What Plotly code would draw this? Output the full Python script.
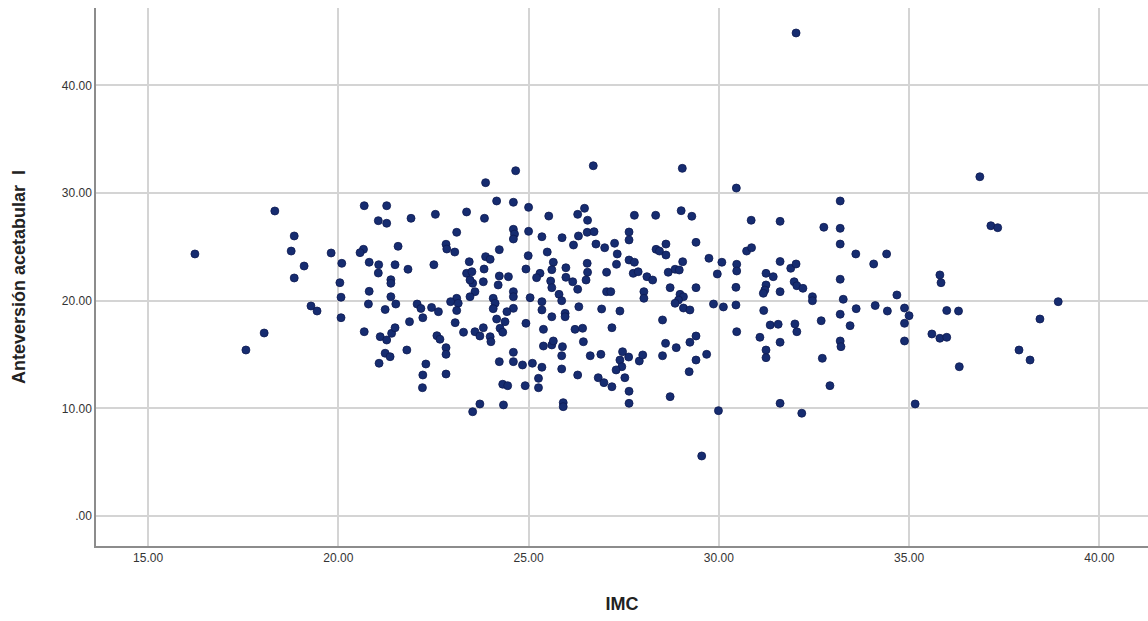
import plotly.graph_objects as go

# IMC (x) and Anteversión acetabular I (y)
imc = [
    16.23, 18.33, 18.84, 18.76, 19.10, 18.84, 19.81, 19.28, 19.44, 17.57, 18.05,
    20.68, 21.27, 21.05, 21.27, 21.91, 22.55, 23.37, 23.11, 22.83, 22.85, 23.06, 21.57, 20.66, 20.57,
    20.09, 20.81, 21.06, 21.05, 21.49, 21.83, 22.51, 23.44, 21.38, 21.38, 20.04, 20.07, 20.81, 20.79,
    21.38, 21.51, 21.23, 22.07, 22.17, 22.45, 23.37, 23.51, 23.53, 23.46, 23.59, 23.46, 23.11, 22.95,
    23.15, 23.11,
    20.07, 22.22, 22.63, 21.87, 20.68, 21.10, 21.27, 21.40, 21.49, 21.80, 21.23, 21.36, 21.07, 22.30,
    22.22, 22.21, 22.59, 22.67, 22.83, 22.83, 22.83, 23.07, 23.29, 23.59, 23.72, 23.72, 23.53,
    24.66, 23.87, 26.70, 24.16, 24.60, 25.00, 23.84, 25.53, 26.47, 26.29, 26.55, 24.60, 24.63, 24.60,
    25.00, 25.35, 25.88, 26.31, 26.54, 26.72, 26.18, 26.77, 27.00, 27.26, 27.64, 27.64, 27.33, 24.23,
    25.49, 24.99, 23.87, 23.99, 25.65, 25.98, 26.54, 27.31, 27.64, 23.83, 24.93, 25.61, 25.30, 25.21,
    26.55, 27.05, 23.81, 24.23, 24.47, 24.20, 25.98, 26.16, 25.58, 25.61, 26.51, 26.29, 24.60, 24.60,
    24.07, 24.12, 25.04, 25.80, 25.87, 25.35, 27.05, 27.16, 26.32, 26.92, 27.40, 24.07, 24.60,
    24.43, 24.16, 24.38, 23.81, 24.25, 24.32, 23.99, 24.01, 24.93, 25.35, 25.61, 25.96, 25.96, 25.39,
    26.22, 26.42, 27.19, 26.44, 25.39, 25.61, 25.65, 25.89, 25.87, 26.62, 26.90, 24.60, 24.23, 24.60,
    24.84, 25.10, 25.35, 25.87, 27.47, 27.63, 27.40, 27.45, 27.30, 27.53, 26.29, 25.26, 25.26, 24.91,
    24.32, 24.45, 26.83, 26.98, 27.19, 27.64, 24.34, 25.91, 25.91, 27.64,
    29.04, 30.46, 27.78, 28.34, 29.01, 29.29, 30.85, 31.61, 28.61, 29.40, 28.35, 28.44, 28.61, 30.73,
    30.86, 27.78, 29.05, 29.74, 30.08, 30.47, 30.47, 31.61, 27.75, 27.88, 28.67, 28.85, 28.96, 28.11,
    28.26, 29.96, 31.24, 31.43, 28.72, 29.40, 30.45, 31.24, 31.21, 31.17, 31.61, 28.03, 28.03, 28.98,
    29.07, 28.94, 28.85, 29.07, 29.86, 30.12, 30.45, 29.24, 31.18,
    28.52, 31.35, 31.56, 30.47, 29.40, 31.08, 28.60, 28.88, 29.24, 31.61, 31.24, 31.24, 27.91, 28.00,
    28.52, 29.40, 29.68, 29.22, 28.72, 29.99, 29.55, 31.61,
    33.19, 32.76, 33.19, 33.19, 33.60, 34.41, 34.07, 31.89, 32.03, 31.98, 32.05, 32.21, 33.19, 32.46,
    32.46, 33.27, 34.68, 33.61, 34.11, 34.43, 34.88,
    32.00, 32.05, 32.69, 33.19, 33.45, 35.00, 34.88, 33.19, 33.21, 34.88, 32.72, 32.92, 32.18, 35.16,
    36.86, 37.15, 37.33, 35.81, 35.84, 38.92, 35.99, 36.30, 35.60, 35.81, 35.99, 36.32, 37.89, 38.18,
    38.44, 32.03,
]

anteversion = [
    24.34, 28.33, 26.01, 24.61, 23.22, 22.11, 24.43, 19.51, 19.04, 15.42, 17.00,
    28.82, 28.82, 27.43, 27.19, 27.65, 28.02, 28.24, 26.35, 25.24, 24.80, 24.52, 25.05, 24.77, 24.46,
    23.47, 23.57, 23.34, 22.57, 23.34, 22.92, 23.34, 23.62, 21.95, 21.62, 21.67, 20.32, 20.87, 19.69,
    20.37, 19.69, 19.18, 19.69, 19.28, 19.37, 22.54, 22.69, 21.62, 21.92, 20.84, 20.37, 20.22, 19.91,
    19.76, 19.09,
    18.42, 18.42, 18.98, 18.05, 17.12, 16.66, 16.35, 16.97, 17.49, 15.42, 15.12, 14.80, 14.19, 14.12,
    13.10, 11.92, 16.75, 16.42, 15.64, 15.02, 13.19, 17.96, 17.07, 17.12, 16.72, 10.41, 9.69,
    32.07, 30.96, 32.53, 29.26, 29.14, 28.67, 27.65, 27.86, 28.58, 28.02, 27.47, 26.63, 26.19, 25.73,
    26.44, 25.94, 25.85, 26.01, 26.35, 26.41, 25.17, 25.26, 24.92, 25.33, 26.38, 25.64, 24.34, 24.74,
    24.52, 24.18, 24.09, 23.84, 23.57, 23.06, 23.47, 23.38, 23.78, 22.94, 22.94, 22.88, 22.54, 22.14,
    22.64, 22.64, 21.76, 22.29, 22.23, 21.46, 22.17, 21.76, 21.83, 21.21, 21.92, 21.06, 20.84, 20.37,
    20.22, 19.76, 20.28, 20.59, 20.00, 19.91, 20.84, 20.84, 19.44, 19.23, 19.04, 19.26, 19.29,
    18.98, 18.30, 18.05, 17.49, 17.44, 17.07, 16.66, 16.19, 17.90, 19.14, 18.51, 18.83, 18.51, 17.34,
    17.34, 17.44, 17.49, 16.19, 15.79, 15.89, 16.26, 15.73, 14.89, 14.89, 15.02, 15.21, 14.34, 14.34,
    14.03, 14.19, 13.82, 13.66, 15.26, 14.77, 14.49, 13.87, 13.57, 12.85, 13.10, 12.79, 11.92, 12.11,
    12.24, 12.11, 12.85, 12.39, 12.01, 11.59, 10.32, 10.53, 10.16, 10.47,
    32.29, 30.46, 27.93, 27.93, 28.36, 27.84, 27.47, 27.37, 25.26, 25.42, 24.77, 24.61, 24.24, 24.61,
    24.92, 23.57, 23.62, 23.94, 23.57, 23.38, 22.76, 23.64, 22.54, 22.69, 22.64, 22.92, 22.85, 22.23,
    21.92, 22.48, 22.54, 22.23, 21.21, 21.21, 21.24, 21.46, 20.99, 20.69, 20.84, 20.84, 20.22, 20.59,
    20.37, 20.06, 19.76, 19.32, 19.69, 19.42, 19.60, 19.14, 19.09,
    18.21, 17.74, 17.81, 17.12, 16.72, 16.60, 16.04, 15.64, 16.14, 16.14, 15.42, 14.71, 14.40, 14.96,
    14.89, 14.49, 15.02, 13.41, 11.09, 9.79, 5.58, 10.47,
    29.26, 26.82, 26.72, 25.26, 24.34, 24.34, 23.41, 23.01, 23.41, 21.76, 21.39, 21.15, 21.99, 20.37,
    20.00, 20.13, 20.53, 19.26, 19.55, 19.04, 19.32,
    17.84, 17.12, 18.14, 18.74, 17.68, 18.61, 17.90, 16.26, 15.73, 16.26, 14.65, 12.11, 9.55, 10.41,
    31.51, 26.96, 26.78, 22.39, 21.67, 19.91, 19.09, 19.04, 16.91, 16.51, 16.60, 13.87, 15.42, 14.49,
    18.30, 44.86,
]

x_ticks = [15, 20, 25, 30, 35, 40]
x_tick_labels = ["15.00", "20.00", "25.00", "30.00", "35.00", "40.00"]
y_ticks = [0, 10, 20, 30, 40]
y_tick_labels = [".00", "10.00", "20.00", "30.00", "40.00"]

fig = go.Figure()
fig.add_trace(go.Scatter(
    x=imc, y=anteversion, mode="markers",
    marker=dict(size=8, color="#162c70", line=dict(color="#0e1b52", width=0.8)),
    showlegend=False, hoverinfo="skip",
))

axis_font = dict(family="Liberation Sans, Arial, sans-serif", size=12, color="#333333")
title_font = dict(family="Liberation Sans, Arial, sans-serif", size=18, color="#222222")

fig.update_layout(
    width=1148, height=621,
    margin=dict(l=96, r=0, t=8, b=75),
    paper_bgcolor="white", plot_bgcolor="white",
    xaxis=dict(
        range=[13.63, 41.28], tickvals=x_ticks, ticktext=x_tick_labels,
        showgrid=True, gridcolor="#d4d4d4", gridwidth=1.5, zeroline=False,
        showline=True, linecolor="#8c8c8c", linewidth=1.5,
        ticks="", tickfont=axis_font,
        title=dict(text="<b>IMC</b>", font=title_font, standoff=33),
        automargin=False,
    ),
    yaxis=dict(
        range=[-2.78, 47.18], tickvals=y_ticks, ticktext=y_tick_labels,
        showgrid=True, gridcolor="#d4d4d4", gridwidth=1.5, zeroline=False,
        showline=True, linecolor="#8c8c8c", linewidth=1.5,
        ticks="", tickfont=axis_font,
        title=dict(text="<b>Anteversión acetabular  I</b>", font=title_font, standoff=32),
        automargin=False,
    ),
)

fig.write_html("out.html")
